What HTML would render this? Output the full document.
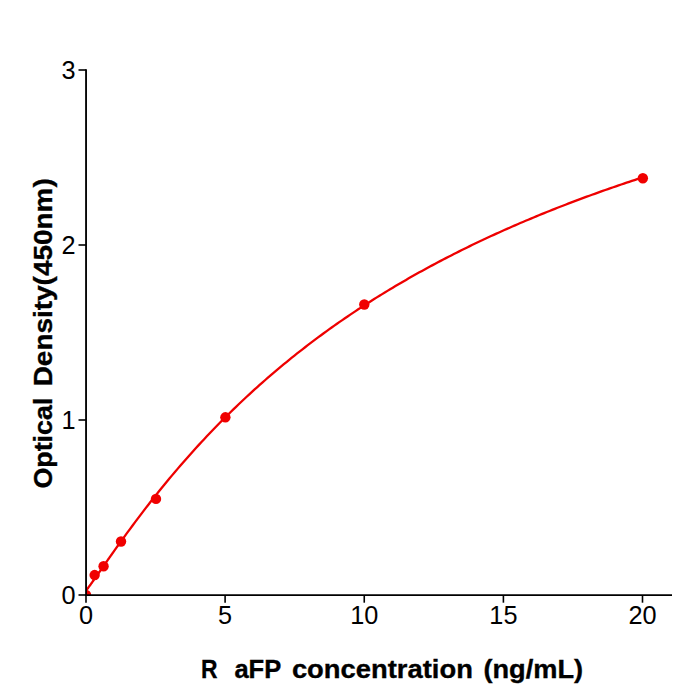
<!DOCTYPE html>
<html><head><meta charset="utf-8"><style>
html,body{margin:0;padding:0;background:#fff;width:700px;height:700px;overflow:hidden}
svg{position:absolute;left:0;top:0}
text{font-family:"Liberation Sans", sans-serif;fill:#000}
</style></head><body>
<svg width="700" height="700" viewBox="0 0 700 700">
<defs><clipPath id="ax"><rect x="86" y="70" width="586" height="525"/></clipPath></defs>
<g clip-path="url(#ax)">
<polyline points="86.00,590.53 86.47,589.99 86.94,589.41 87.41,588.80 87.89,588.18 88.36,587.55 88.83,586.91 89.30,586.27 89.77,585.63 90.24,584.98 90.72,584.32 91.19,583.67 91.66,583.01 92.13,582.35 92.60,581.68 93.07,581.02 93.55,580.35 94.02,579.68 94.49,579.02 94.96,578.34 95.43,577.67 95.90,577.00 96.38,576.33 96.85,575.66 97.32,574.98 97.79,574.31 98.26,573.63 98.73,572.96 99.21,572.28 99.68,571.60 100.15,570.93 100.62,570.25 101.09,569.58 101.56,568.90 102.03,568.22 102.51,567.55 102.98,566.87 103.45,566.20 103.92,565.52 104.39,564.85 104.86,564.17 105.34,563.50 105.81,562.82 106.28,562.15 106.75,561.47 107.22,560.80 107.69,560.13 108.17,559.45 108.64,558.78 109.11,558.11 109.58,557.44 110.05,556.77 110.52,556.10 111.00,555.43 111.47,554.76 111.94,554.09 112.41,553.42 112.88,552.75 113.35,552.09 113.83,551.42 116.48,547.68 119.14,543.96 121.79,540.26 124.45,536.58 127.11,532.93 129.76,529.31 132.42,525.71 135.08,522.14 137.73,518.60 140.39,515.09 143.05,511.60 145.70,508.14 148.36,504.72 151.02,501.32 153.67,497.94 156.33,494.60 158.99,491.28 161.64,488.00 164.30,484.74 166.96,481.51 169.61,478.31 172.27,475.13 174.93,471.99 177.58,468.87 180.24,465.78 182.90,462.71 185.55,459.68 188.21,456.67 190.87,453.69 193.52,450.73 196.18,447.80 198.84,444.89 201.49,442.01 204.15,439.16 206.81,436.33 209.46,433.53 212.12,430.75 214.78,428.00 217.43,425.27 220.09,422.56 222.75,419.88 225.40,417.22 228.06,414.58 230.72,411.97 233.37,409.38 236.03,406.81 238.69,404.27 241.34,401.75 244.00,399.25 246.66,396.77 249.31,394.31 251.97,391.87 254.63,389.46 257.28,387.06 259.94,384.69 262.60,382.33 265.25,380.00 267.91,377.68 270.57,375.39 273.22,373.11 275.88,370.86 278.54,368.62 281.19,366.40 283.85,364.20 286.51,362.02 289.16,359.85 291.82,357.71 294.48,355.58 297.13,353.47 299.79,351.37 302.45,349.30 305.10,347.24 307.76,345.20 310.42,343.17 313.07,341.16 315.73,339.17 318.39,337.19 321.04,335.23 323.70,333.28 326.36,331.35 329.01,329.43 331.67,327.53 334.33,325.65 336.98,323.78 339.64,321.92 342.30,320.08 344.95,318.26 347.61,316.44 350.27,314.65 352.92,312.86 355.58,311.09 358.24,309.33 360.89,307.59 363.55,305.86 366.21,304.14 368.86,302.44 371.52,300.75 374.18,299.07 376.83,297.40 379.49,295.75 382.15,294.11 384.80,292.48 387.46,290.86 390.12,289.26 392.77,287.67 395.43,286.09 398.09,284.52 400.74,282.96 403.40,281.41 406.06,279.88 408.71,278.35 411.37,276.84 414.03,275.34 416.68,273.85 419.34,272.37 422.00,270.90 424.65,269.44 427.31,267.99 429.97,266.55 432.62,265.12 435.28,263.70 437.94,262.29 440.59,260.89 443.25,259.51 445.91,258.13 448.56,256.76 451.22,255.40 453.88,254.05 456.53,252.70 459.19,251.37 461.85,250.05 464.50,248.73 467.16,247.43 469.82,246.13 472.47,244.84 475.13,243.57 477.79,242.30 480.44,241.03 483.10,239.78 485.76,238.53 488.41,237.30 491.07,236.07 493.73,234.85 496.38,233.64 499.04,232.43 501.70,231.24 504.35,230.05 507.01,228.87 509.67,227.69 512.32,226.53 514.98,225.37 517.64,224.22 520.29,223.07 522.95,221.94 525.61,220.81 528.26,219.69 530.92,218.57 533.58,217.46 536.23,216.36 538.89,215.27 541.55,214.18 544.20,213.10 546.86,212.03 549.52,210.96 552.17,209.90 554.83,208.85 557.49,207.80 560.14,206.76 562.80,205.73 565.46,204.70 568.11,203.68 570.77,202.67 573.43,201.66 576.08,200.65 578.74,199.66 581.40,198.67 584.05,197.68 586.71,196.70 589.37,195.73 592.02,194.76 594.68,193.80 597.34,192.85 599.99,191.90 602.65,190.95 605.31,190.01 607.96,189.08 610.62,188.15 613.28,187.23 615.93,186.31 618.59,185.40 621.25,184.49 623.90,183.59 626.56,182.69 629.22,181.80 631.87,180.92 634.53,180.04 637.19,179.16 639.84,178.29 642.50,177.42" fill="none" stroke="#ee0000" stroke-width="2.3" stroke-linejoin="round"/>
<g fill="#f00000">
<circle cx="86.00" cy="595.00" r="5.2"/>
<circle cx="94.64" cy="575.07" r="5.2"/>
<circle cx="103.57" cy="566.25" r="5.2"/>
<circle cx="121.00" cy="541.48" r="5.2"/>
<circle cx="155.98" cy="498.90" r="5.2"/>
<circle cx="225.38" cy="417.32" r="5.2"/>
<circle cx="364.30" cy="304.50" r="5.2"/>
<circle cx="642.85" cy="178.20" r="5.2"/>
</g>
</g>
<g stroke="#000" stroke-width="1.85" fill="none">
<line x1="86.05" y1="69.2" x2="86.05" y2="596"/>
<line x1="85.1" y1="595.1" x2="672" y2="595.1"/>
</g>
<g stroke="#000" stroke-width="1.6">
<line x1="78.5" y1="595" x2="86" y2="595"/>
<line x1="78.5" y1="420" x2="86" y2="420"/>
<line x1="78.5" y1="245" x2="86" y2="245"/>
<line x1="78.5" y1="70" x2="86" y2="70"/>
<line x1="86" y1="595" x2="86" y2="602.7"/>
<line x1="225.1" y1="595" x2="225.1" y2="602.7"/>
<line x1="364.25" y1="595" x2="364.25" y2="602.7"/>
<line x1="503.4" y1="595" x2="503.4" y2="602.7"/>
<line x1="642.5" y1="595" x2="642.5" y2="602.7"/>
</g>
<g font-size="25.3" text-anchor="end">
<text x="75.5" y="604">0</text>
<text x="75.5" y="429">1</text>
<text x="75.5" y="254">2</text>
<text x="75.5" y="79">3</text>
</g>
<g font-size="25.3" text-anchor="middle">
<text x="86" y="623.5">0</text>
<text x="225.1" y="623.5">5</text>
<text x="364.25" y="623.5">10</text>
<text x="503.4" y="623.5">15</text>
<text x="642.5" y="623.5">20</text>
</g>
<g font-size="26" font-weight="bold" stroke="#000" stroke-width="0.35">
<text x="200.9" y="678" textLength="16.5" lengthAdjust="spacingAndGlyphs">R</text>
<text x="234.4" y="678" textLength="46.8" lengthAdjust="spacingAndGlyphs">aFP</text>
<text x="291.9" y="678" textLength="181" lengthAdjust="spacingAndGlyphs">concentration</text>
<text x="483.4" y="678" textLength="99.7" lengthAdjust="spacingAndGlyphs">(ng/mL)</text>
<g transform="translate(52,488.6) rotate(-90)">
<text x="0" y="0" textLength="91" lengthAdjust="spacingAndGlyphs">Optical</text>
<text x="102.3" y="0" textLength="208" lengthAdjust="spacingAndGlyphs">Density(450nm)</text>
</g>
</g>
</svg>
</body></html>
